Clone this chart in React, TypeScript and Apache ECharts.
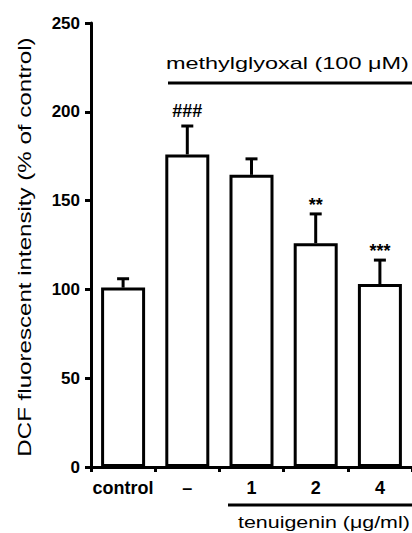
import React, { useEffect, useRef } from 'react';
import * as echarts from 'echarts';

const categories = ['control', '–', '1', '2', '4'];
const meanValues = [101, 176, 164.5, 126, 103];
const errorValues = [5, 16, 9, 16.5, 13.5];
const significance = ['', '###', '', '**', '***'];
const yTitle = 'DCF fluorescent intensity (% of control)';
const topGroupLabel = 'methylglyoxal (100 μM)';
const bottomGroupLabel = 'tenuigenin (μg/ml)';
const yMin = 0;
const yMax = 250;
const yStep = 50;

const FONT = '"Liberation Sans", Arial, Helvetica, sans-serif';
const BLACK = '#000';

export default function App() {
  const ref = useRef<HTMLDivElement>(null);

  useEffect(() => {
    if (!ref.current) return;
    const chart = echarts.init(ref.current, null, { renderer: 'svg' });
    const errData = categories.map((_, i) => [i, meanValues[i], errorValues[i]]);

    chart.setOption({
      animation: false,
      backgroundColor: '#fff',
      grid: { left: 91, top: 23, width: 325, bottom: 66 },
      xAxis: {
        type: 'category',
        data: categories,
        axisLine: { lineStyle: { color: BLACK, width: 3 } },
        axisTick: { show: true, length: 5, lineStyle: { color: BLACK, width: 3 } },
        axisLabel: {
          interval: 0,
          color: BLACK,
          fontFamily: FONT,
          fontWeight: 'bold',
          fontSize: 18,
          margin: 12,
        },
      },
      yAxis: {
        type: 'value',
        min: yMin,
        max: yMax,
        interval: yStep,
        splitLine: { show: false },
        axisLine: { show: true, lineStyle: { color: BLACK, width: 3 } },
        axisTick: { show: true, length: 6, lineStyle: { color: BLACK, width: 3 } },
        axisLabel: {
          color: BLACK,
          fontFamily: FONT,
          fontWeight: 'bold',
          fontSize: 17,
          margin: 11,
        },
      },
      series: [
        {
          type: 'bar',
          data: meanValues,
          barWidth: 44,
          z: 2,
          itemStyle: { color: '#fff', borderColor: BLACK, borderWidth: 3 },
        },
        {
          type: 'custom',
          data: errData,
          z: 3,
          renderItem: (_params: any, api: any) => {
            const i = api.value(0);
            const m = api.value(1);
            const e = api.value(2);
            const base = api.coord([i, m]);
            const top = api.coord([i, m + e]);
            const x = base[0];
            const label = significance[i] || '';
            const gap = label.startsWith('#') ? 6 : 0;
            const lineStyle = { stroke: BLACK, lineWidth: 3 };
            return {
              type: 'group',
              children: [
                { type: 'line', shape: { x1: x, y1: base[1], x2: x, y2: top[1] }, style: lineStyle },
                { type: 'line', shape: { x1: x - 6, y1: top[1], x2: x + 6, y2: top[1] }, style: lineStyle },
                {
                  type: 'text',
                  x: x,
                  y: top[1] - gap,
                  style: {
                    text: label,
                    align: 'center',
                    verticalAlign: 'bottom',
                    fontFamily: FONT,
                    fontWeight: 'bold',
                    fontSize: 18,
                    fill: BLACK,
                  },
                },
              ],
            };
          },
        },
      ],
      graphic: [
        {
          type: 'text',
          x: 25,
          y: 247,
          rotation: Math.PI / 2,
          scaleX: 1.34,
          style: {
            text: yTitle,
            align: 'center',
            verticalAlign: 'middle',
            fontFamily: FONT,
            fontSize: 18,
            fill: BLACK,
          },
        },
        {
          type: 'text',
          x: 166,
          y: 63,
          scaleX: 1.38,
          style: {
            text: topGroupLabel,
            align: 'left',
            verticalAlign: 'middle',
            fontFamily: FONT,
            fontSize: 17,
            fill: BLACK,
          },
        },
        {
          type: 'line',
          shape: { x1: 168, y1: 83, x2: 412, y2: 83 },
          style: { stroke: BLACK, lineWidth: 3 },
        },
        {
          type: 'line',
          shape: { x1: 228, y1: 505, x2: 412, y2: 505 },
          style: { stroke: BLACK, lineWidth: 3 },
        },
        {
          type: 'text',
          x: 238,
          y: 522,
          scaleX: 1.26,
          style: {
            text: bottomGroupLabel,
            align: 'left',
            verticalAlign: 'middle',
            fontFamily: FONT,
            fontSize: 17,
            fill: BLACK,
          },
        },
      ],
    });

    return () => chart.dispose();
  }, []);

  return (
    <div style={{ position: 'fixed', left: 0, top: 0, width: 412, height: 533, overflow: 'hidden' }}>
      <div ref={ref} style={{ width: 412, height: 533 }} />
    </div>
  );
}
